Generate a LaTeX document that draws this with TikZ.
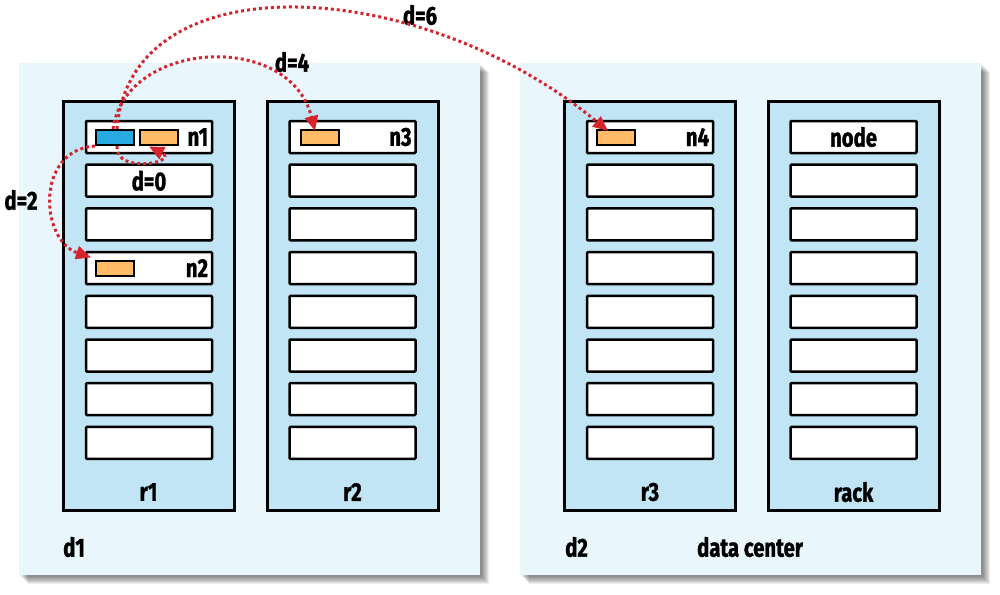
\documentclass[tikz,border=0pt]{standalone}
\usepackage{fontspec}
\setmainfont{Fira Sans}[FakeStretch=0.78, BoldFeatures={FakeBold=1.2}]
\usetikzlibrary{arrows.meta}
\definecolor{dcbg}{HTML}{E9F6FC}
\definecolor{rackbg}{HTML}{C1E5F5}
\definecolor{hdblue}{HTML}{27AAE1}
\definecolor{hdorange}{HTML}{FFBB66}
\definecolor{arrred}{HTML}{D7242C}
\begin{document}
\begin{tikzpicture}[x=1pt,y=-1pt,
  lbl/.style={font=\fontsize{26}{28}\selectfont\bfseries, inner sep=0pt},
  dcbox/.style={fill=dcbg},
  shadowbox/.style={fill=black, opacity=0.07},
  rackbox/.style={draw=black, line width=3pt, fill=rackbg, minimum width=171pt, minimum height=409pt, inner sep=0pt},
  srv/.style={draw=black, line width=2.5pt, fill=white, rounded corners=1pt, minimum width=126pt, minimum height=32pt, inner sep=0pt},
  blk/.style={draw=black, line width=2pt, minimum width=38pt, minimum height=15pt, inner sep=0pt},
  hop/.style={draw=arrred, line width=3pt, dash pattern=on 3pt off 3pt, -{Triangle[length=15pt,width=13pt]}},
]
\useasboundingbox (0,0) rectangle (1000,594);
% data center shadows and boxes
\foreach \s in {2,...,9} {
  \fill[shadowbox] (19+\s,63+\s) rectangle (480+\s,575+\s);
  \fill[shadowbox] (520+\s,63+\s) rectangle (981+\s,575+\s);
}
\fill[dcbox] (19,63) rectangle (480,575);
\fill[dcbox] (520,63) rectangle (981,575);
% racks
\node[rackbox] (r1) at (148.5,305.5) {};
\node[rackbox] (r2) at (352.5,305.5) {};
\node[rackbox] (r3) at (650,305.5) {};
\node[rackbox] (r4) at (853.5,305.5) {};
% servers
\foreach \r/\x in {1/149, 2/352.5, 3/650, 4/853.5} {
  \foreach \k in {1,...,8} {
    \node[srv] (s\r-\k) at (\x,{137+43.7*(\k-1)}) {};
  }
}
% blocks
\node[blk, fill=hdblue] (b0) at (115,137.5) {};
\node[blk, fill=hdorange] (o1) at (159,137.5) {};
\node[blk, fill=hdorange] (o2) at (115,268) {};
\node[blk, fill=hdorange] (o3) at (320,137.5) {};
\node[blk, fill=hdorange] (o4) at (616,137.5) {};
% server texts
\node[lbl, anchor=east] (t1) at ([xshift=-5pt]s1-1.east) {n1};
\node[lbl, anchor=east] (t2) at ([xshift=-5pt]s1-4.east) {n2};
\node[lbl, anchor=east] (t3) at ([xshift=-5pt]s2-1.east) {n3};
\node[lbl, anchor=east] (t4) at ([xshift=-5pt]s3-1.east) {n4};
\node[lbl] (t0) at (s1-2) {d=0};
\node[lbl] (tn) at (s4-1) {node};
% rack labels
\node[lbl] (lr1) at (148.5,492) {r1};
\node[lbl] (lr2) at (352.5,492) {r2};
\node[lbl] (lr3) at (650,492) {r3};
\node[lbl] (lr4) at (853.5,492) {rack};
% dc labels
\node[lbl, anchor=west] (ld1) at (63,547) {d1};
\node[lbl, anchor=west] (ld2) at (565,547) {d2};
\node[lbl] (ldc) at (750,547) {data center};
% distance labels
\node[lbl] (l6) at (420,15) {d=6};
\node[lbl] (l4) at (292,62) {d=4};
\node[lbl] (l2) at (21,200) {d=2};
% arrows
\draw[hop] ([xshift=2pt]b0.north) .. controls (130,-40) and (420,-25) .. ([xshift=-8pt,yshift=-2pt]o4.north);
\draw[hop] ([xshift=-2pt]b0.north) .. controls (125,40) and (290,30) .. ([xshift=-5pt,yshift=-2pt]o3.north);
\draw[hop] (b0.south west) .. controls (35,150) and (40,240) .. ([xshift=-4pt,yshift=2pt]o2.north west);
\draw[hop] ([xshift=2pt]b0.south) .. controls (115,175) and (180,162) .. ([xshift=-10pt,yshift=-9pt]o1.center);
\end{tikzpicture}
\end{document}
